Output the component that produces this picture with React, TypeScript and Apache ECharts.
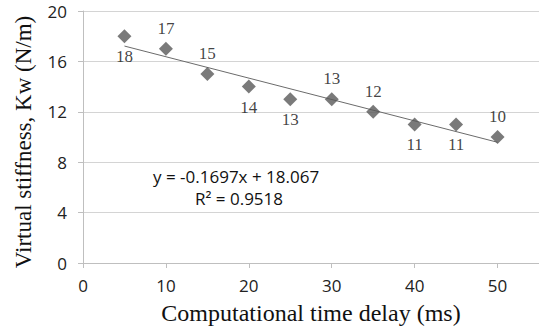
import React, { useEffect, useRef } from "react";
import * as echarts from "echarts";

const delays = [5, 10, 15, 20, 25, 30, 35, 40, 45, 50];
const stiffness = [18, 17, 15, 14, 13, 13, 12, 11, 11, 10];
const labelAbove = [false, true, true, false, false, true, true, false, false, true];
const trendX = [5, 50];
const trendY = [17.2185, 9.582];
const equationText = "y = -0.1697x + 18.067";
const r2Text = "R² = 0.9518";
const xTitle = "Computational time delay (ms)";
const yTitle = "Virtual stiffness, Kw (N/m)";

export default function App() {
  const ref = useRef<HTMLDivElement>(null);
  useEffect(() => {
    if (!ref.current) return;
    const chart = echarts.init(ref.current, null, { renderer: "svg" });
    const serif = "'Liberation Serif', 'Times New Roman', serif";
    const sans = "'Open Sans', 'Liberation Sans', sans-serif";
    chart.setOption({
      animation: false,
      backgroundColor: "#ffffff",
      grid: { left: 83, right: 0, top: 11, bottom: 67, containLabel: false, outerBoundsMode: "none" },
      xAxis: {
        type: "value",
        min: 0,
        max: 55,
        interval: 10,
        name: xTitle,
        nameLocation: "middle",
        nameGap: 38,
        nameTextStyle: { fontFamily: serif, fontSize: 24, color: "#111" },
        axisLine: { show: true, lineStyle: { color: "#bfbfbf", width: 1 } },
        axisTick: { show: true, length: 5, lineStyle: { color: "#bfbfbf" } },
        axisLabel: { fontFamily: sans, fontSize: 17, color: "#222", margin: 14, showMaxLabel: false },
        splitLine: { show: false },
      },
      yAxis: {
        type: "value",
        min: 0,
        max: 20,
        interval: 4,
        axisLine: { show: true, lineStyle: { color: "#bfbfbf", width: 1 } },
        axisTick: { show: true, length: 5, lineStyle: { color: "#bfbfbf" } },
        axisLabel: { fontFamily: sans, fontSize: 17, color: "#222", margin: 16 },
        splitLine: { show: true, lineStyle: { color: "#d4d4d4", width: 1 } },
      },
      series: [
        {
          type: "line",
          data: trendX.map((x, i) => [x, trendY[i]]),
          symbol: "none",
          lineStyle: { color: "#6b6b6b", width: 1 },
          silent: true,
          z: 3,
        },
        {
          type: "scatter",
          symbol: "diamond",
          symbolSize: 14,
          itemStyle: { color: "#595959" },
          data: delays.map((x, i) => ({
            value: [x, stiffness[i]],
            label: { position: labelAbove[i] ? "top" : "bottom" },
          })),
          label: {
            show: true,
            distance: 5,
            fontFamily: serif,
            fontSize: 17,
            color: "#111",
            formatter: (p: any) => String(p.value[1]),
          },
          z: 4,
        },
      ],
      graphic: [
        {
          type: "text",
          x: 23,
          y: 142,
          rotation: Math.PI / 2,
          style: {
            text: yTitle,
            fontFamily: serif,
            fontSize: 23,
            fill: "#111",
            align: "center",
            verticalAlign: "middle",
          },
        },
        {
          type: "text",
          left: 153,
          top: 168,
          style: { text: equationText, fontFamily: sans, fontSize: 17, fill: "#111" },
        },
        {
          type: "text",
          left: 195,
          top: 190,
          style: { text: r2Text, fontFamily: sans, fontSize: 17, fill: "#111" },
        },
      ],
    });
    return () => chart.dispose();
  }, []);
  return <div ref={ref} style={{ width: 539, height: 330, position: "absolute", left: 0, top: 0 }} />;
}
